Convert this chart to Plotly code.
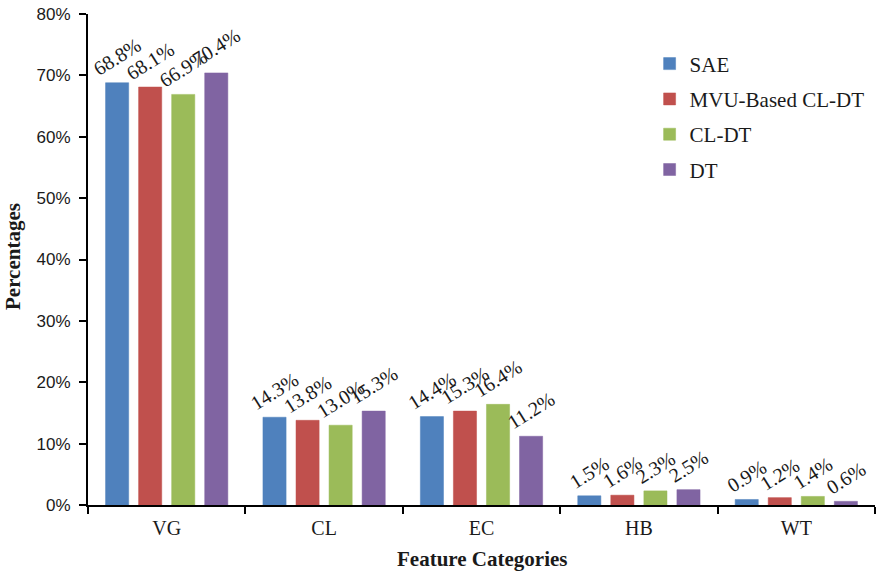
import plotly.graph_objects as go

# Feature categories and the share each method assigns to them (percent)
categories = ["VG", "CL", "EC", "HB", "WT"]
series_names = ["SAE", "MVU-Based CL-DT", "CL-DT", "DT"]
sae = [68.8, 14.3, 14.4, 1.5, 0.9]
mvu_cl_dt = [68.1, 13.8, 15.3, 1.6, 1.2]
cl_dt = [66.9, 13.0, 16.4, 2.3, 1.4]
dt = [70.4, 15.3, 11.2, 2.5, 0.6]
y_ticks = [0, 10, 20, 30, 40, 50, 60, 70, 80]
y_tick_labels = [f"{t}%" for t in y_ticks]

colors = ["#4F81BD", "#C0504D", "#9BBB59", "#8064A2"]
serif = "Liberation Serif"
sans = "Liberation Sans"
ink = "#1a1a1a"

fig = go.Figure()
for i, (name, vals) in enumerate(zip(series_names, [sae, mvu_cl_dt, cl_dt, dt])):
    fig.add_trace(go.Bar(
        name=name,
        x=categories,
        y=vals,
        marker=dict(color=colors[i], line=dict(color=colors[i], width=0.5)),
        text=[f"{v:.1f}%" for v in vals],
        textposition="outside",
        textangle=-32,
        constraintext="none",
        cliponaxis=False,
        textfont=dict(family=serif, size=20, color=ink),
        legendgroup=name,
    ))

fig.update_layout(
    width=892,
    height=575,
    margin=dict(l=88, r=17, t=14, b=70),
    paper_bgcolor="white",
    plot_bgcolor="white",
    barmode="group",
    bargap=0.16,
    bargroupgap=0.3,
    showlegend=True,
    legend=dict(
        x=0.7136, y=0.94, xanchor="left", yanchor="top",
        font=dict(family=serif, size=21, color=ink),
        traceorder="grouped",
        tracegroupgap=5,
        itemwidth=30,
        bgcolor="rgba(0,0,0,0)",
    ),
    xaxis=dict(
        automargin=False,
        showline=True, linecolor="black", linewidth=2,
        ticks="outside", tickson="boundaries", ticklen=7, tickwidth=2, tickcolor="black",
        ticklabelstandoff=4,
        tickfont=dict(family=serif, size=20, color=ink),
        showgrid=False,
    ),
    yaxis=dict(
        automargin=False,
        range=[0, 80],
        tickvals=y_ticks,
        ticktext=y_tick_labels,
        showline=True, linecolor="black", linewidth=2,
        ticks="outside", ticklen=7, tickwidth=2, tickcolor="black",
        ticklabelstandoff=5,
        tickfont=dict(family=sans, size=17, color=ink),
        showgrid=False,
        zeroline=False,
    ),
    annotations=[
        dict(text="<b>Feature Categories</b>", xref="paper", yref="paper",
             x=0.5, y=-0.11, xanchor="center", yanchor="middle", showarrow=False,
             font=dict(family=serif, size=21, color=ink)),
        dict(text="<b>Percentages</b>", xref="paper", yref="paper",
             x=-0.096, y=0.506, xanchor="center", yanchor="middle", showarrow=False,
             textangle=-90, font=dict(family=serif, size=21, color=ink)),
    ],
)

fig.write_html("out.html")
